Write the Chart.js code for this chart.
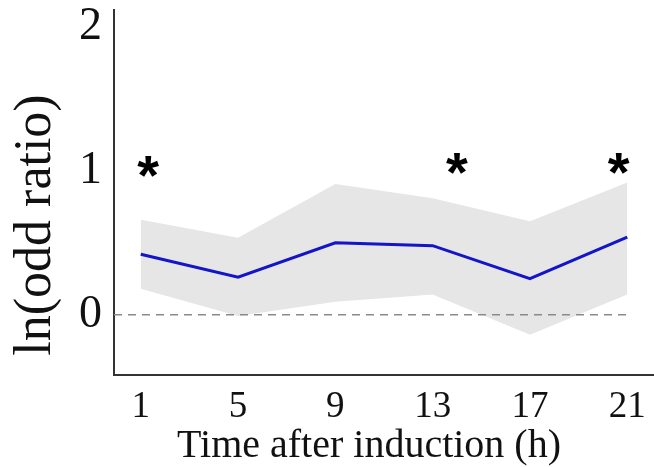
<!DOCTYPE html>
<html>
<head>
<meta charset="utf-8">
<script src="https://cdn.jsdelivr.net/npm/chart.js@4.4.1/dist/chart.umd.min.js"></script>
<style>
  html, body { margin: 0; padding: 0; background: #fff; }
  #wrap { width: 654px; height: 467px; }
</style>
</head>
<body>
<div id="wrap"><canvas id="odds"></canvas></div>
<script>
// values
const hours = [1, 5, 9, 13, 17, 21];
const lnOdds = [0.42, 0.26, 0.50, 0.48, 0.25, 0.54];
const upperCI = [0.66, 0.535, 0.91, 0.81, 0.65, 0.92];
const lowerCI = [0.18, -0.01, 0.09, 0.14, -0.14, 0.14];
const starHours = [1.3, 14.0, 20.65];
const starLevel = [1.03, 1.05, 1.05];
const yTicks = [0, 1, 2];

const xMin = -0.1, xMax = 22.1;
const yMin = -0.42, yMax = 2.12;

const pts = ys => hours.map((h, i) => ({ x: h, y: ys[i] }));
const serif = '"Liberation Serif", "Times New Roman", serif';

const starPlugin = {
  id: 'stars',
  afterDatasetsDraw(chart) {
    const { ctx, scales: { x, y } } = chart;
    ctx.save();
    ctx.font = 'bold 56px "Liberation Sans", Arial, sans-serif';
    ctx.fillStyle = '#000';
    ctx.textAlign = 'center';
    ctx.textBaseline = 'alphabetic';
    const m = ctx.measureText('*');
    const mid = (m.actualBoundingBoxAscent - m.actualBoundingBoxDescent) / 2;
    starHours.forEach((h, i) => {
      ctx.fillText('*', x.getPixelForValue(h), y.getPixelForValue(starLevel[i]) + mid);
    });
    ctx.restore();
  }
};

// keep the plot box fixed, tick labels may overhang it
const noPad = s => { s.paddingTop = 0; s.paddingBottom = 0; s.paddingLeft = 0; s.paddingRight = 0; };

new Chart(document.getElementById('odds'), {
  type: 'line',
  data: {
    datasets: [
      {
        label: 'ln(odd ratio)',
        data: pts(lnOdds),
        borderColor: '#1414c8',
        borderWidth: 3,
        pointRadius: 0,
        fill: false,
        tension: 0,
        order: 0
      },
      {
        label: 'zero',
        data: [{ x: xMin, y: 0 }, { x: hours[hours.length - 1], y: 0 }],
        borderColor: '#8a8a8a',
        borderWidth: 1.5,
        borderDash: [8, 6],
        pointRadius: 0,
        fill: false,
        order: 1
      },
      {
        label: 'upper',
        data: pts(upperCI),
        borderColor: 'transparent',
        borderWidth: 0,
        backgroundColor: '#e6e6e6',
        pointRadius: 0,
        fill: '+1',
        order: 2
      },
      {
        label: 'lower',
        data: pts(lowerCI),
        borderColor: 'transparent',
        borderWidth: 0,
        pointRadius: 0,
        fill: false,
        order: 3
      }
    ]
  },
  options: {
    responsive: true,
    maintainAspectRatio: false,
    animation: false,
    layout: { padding: { top: 10, right: 0, left: 0, bottom: 0 } },
    plugins: {
      legend: { display: false },
      tooltip: { enabled: false }
    },
    scales: {
      x: {
        type: 'linear',
        min: xMin,
        max: xMax,
        afterBuildTicks: s => { s.ticks = hours.map(v => ({ value: v })); },
        afterFit: s => { s.height = 92; noPad(s); },
        grid: { display: false, drawTicks: false },
        border: { display: true, color: '#333', width: 2 },
        ticks: { color: '#111', padding: 10, font: { family: serif, size: 37 } },
        title: {
          display: true,
          text: 'Time after induction (h)   ',
          color: '#111',
          padding: { top: 0, bottom: -3 },
          font: { family: serif, size: 40 }
        }
      },
      y: {
        min: yMin,
        max: yMax,
        afterBuildTicks: s => { s.ticks = yTicks.map(v => ({ value: v })); },
        afterFit: s => { s.width = 114; noPad(s); },
        grid: { display: false, drawTicks: false },
        border: { display: true, color: '#333', width: 2 },
        ticks: { color: '#111', padding: 12, font: { family: serif, size: 46 } },
        title: {
          display: true,
          text: 'ln(odd ratio)     ',
          color: '#111',
          padding: { top: 5, bottom: 0 },
          font: { family: serif, size: 52 }
        }
      }
    }
  },
  plugins: [starPlugin]
});
</script>
</body>
</html>
